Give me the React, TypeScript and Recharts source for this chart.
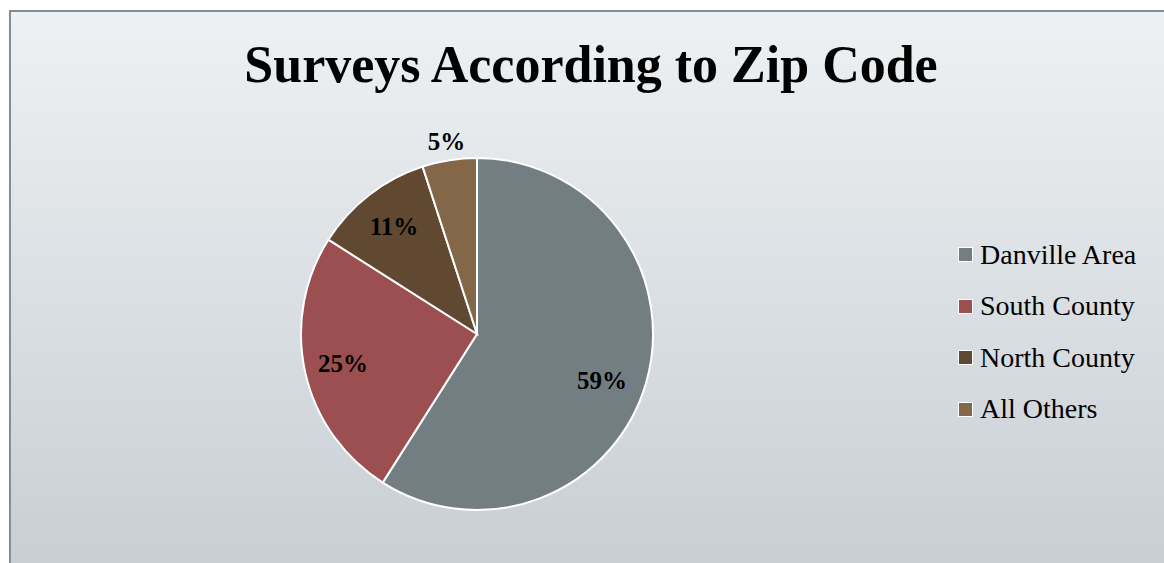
import { PieChart, Pie, Cell, Legend } from "recharts";

const regions = ["Danville Area", "South County", "North County", "All Others"];
const shares = [59, 25, 11, 5];
const colors = ["#737e83", "#9b4f50", "#614931", "#846649"];

// label distance from the center, as a share of the radius
const labelRadius = [0.74, 0.78, 0.77, 1.11];
const labelShiftY = [10, 0, 0, 0];

const data = regions.map((name, i) => ({ name, value: shares[i] }));
const total = shares.reduce((a, b) => a + b, 0);

const FONT = '"Palatino Linotype", "Book Antiqua", Palatino, "Liberation Serif", serif';
const RAD = Math.PI / 180;

const renderLabel = (props: any) => {
  const { cx, cy, midAngle, outerRadius, index, value } = props;
  const r = outerRadius * labelRadius[index];
  const x = cx + r * Math.cos(-midAngle * RAD);
  const y = cy + r * Math.sin(-midAngle * RAD) + labelShiftY[index];
  return (
    <text
      x={x}
      y={y}
      textAnchor="middle"
      dominantBaseline="central"
      fill="#000"
      fontFamily={FONT}
      fontWeight="bold"
      fontSize={25}
    >
      {Math.round((value / total) * 100)}%
    </text>
  );
};

const renderLegend = () => (
  <div style={{ fontFamily: FONT, fontSize: 28, color: "#000" }}>
    {regions.map((name, i) => (
      <div
        key={name}
        style={{ height: 51.5, display: "flex", alignItems: "center" }}
      >
        <span
          style={{
            width: 13,
            height: 13,
            background: colors[i],
            border: "1.5px solid #fff",
            marginRight: 7,
            display: "inline-block",
          }}
        />
        {name}
      </div>
    ))}
  </div>
);

export default function App() {
  return (
    <div
      style={{
        position: "fixed",
        left: 0,
        top: 0,
        width: 1164,
        height: 563,
        overflow: "hidden",
        background: "#fff",
      }}
    >
      <div
        style={{
          position: "absolute",
          left: 9,
          top: 10,
          width: 1180,
          height: 580,
          border: "2px solid #858e93",
          boxShadow: "1px 1px 2px rgba(0,0,0,0.25)",
          background: "linear-gradient(#eef1f3, #c6cdd3)",
        }}
      />
      <div
        style={{
          position: "absolute",
          left: 0,
          top: 35,
          width: 1182,
          textAlign: "center",
          fontFamily: FONT,
          fontWeight: "bold",
          fontSize: 52,
          color: "#000",
        }}
      >
        Surveys According to Zip Code
      </div>
      <div style={{ position: "absolute", left: 0, top: 0 }}>
        <PieChart
          width={1164}
          height={563}
          margin={{ top: 0, right: 0, bottom: 0, left: 0 }}
        >
          <Pie
            data={data}
            dataKey="value"
            nameKey="name"
            cx={477}
            cy={334}
            outerRadius={176}
            startAngle={90}
            endAngle={-270}
            stroke="#fff"
            strokeWidth={2}
            label={renderLabel}
            labelLine={false}
            isAnimationActive={false}
          >
            {data.map((d, i) => (
              <Cell key={d.name} fill={colors[i]} />
            ))}
          </Pie>
          <Legend
            layout="vertical"
            content={renderLegend}
            wrapperStyle={{ left: 958, top: 229, width: 206 }}
          />
        </PieChart>
      </div>
    </div>
  );
}
